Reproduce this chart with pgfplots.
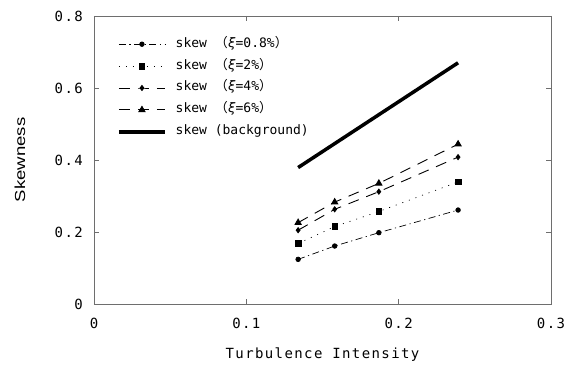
\documentclass[border=0pt]{standalone}
\usepackage{fontspec}
\usepackage{pgfplots}
\pgfplotsset{compat=1.18}
\setmainfont{DejaVu Sans Mono}
\newfontfamily\tickfont[LetterSpace=10]{DejaVu Sans Mono}
\newfontfamily\ylabfont[FakeStretch=1.28]{Liberation Sans}
\newfontfamily\cjk{Noto Sans CJK JP}
\definecolor{axgray}{RGB}{110,110,110}
\begin{document}
\begin{tikzpicture}
\begin{axis}[
  scale only axis, width=457pt, height=288pt,
  xmin=0, xmax=0.3, ymin=0, ymax=0.8,
  xtick={0,0.1,0.2,0.3}, xticklabels={0,0.1,0.2,0.3},
  ytick={0,0.2,0.4,0.6,0.8}, yticklabels={0,0.2,0.4,0.6,0.8},
  tick align=inside, major tick length=5pt,
  axis line style={axgray, line width=0.8pt},
  every tick/.style={axgray, line width=0.8pt},
  xticklabel style={font=\fontsize{14}{14}\tickfont, anchor=north, inner sep=0pt, yshift=-14pt},
  yticklabel style={font=\fontsize{14}{14}\tickfont, anchor=east, inner sep=0pt, xshift=-11pt},
  xlabel={Turbulence Intensity},
  ylabel={Skewness},
  xlabel style={font=\fontsize{14}{14}\tickfont, at={(axis description cs:0.5,-0.1771)}, anchor=center, inner sep=0pt},
  ylabel style={font=\fontsize{14.5}{14.5}\ylabfont, at={(axis description cs:-0.1619,0.5)}, anchor=center, inner sep=0pt},
  legend image code/.code={\draw[mark repeat=2, mark phase=2, #1] plot coordinates {(0pt,0pt) (23pt,0pt) (46pt,0pt)};},
  legend cell align=left,
  legend style={draw=none, fill=none, at={(rel axis cs:0,1)}, anchor=north west,
    xshift=23pt, yshift=-22pt, inner sep=0pt, row sep=9.9pt, column sep=9pt,
    font=\fontsize{13}{13}\selectfont,
    nodes={inner sep=0pt, text height=9pt, text depth=3pt}},
]
\coordinate (bl) at (rel axis cs:0,0);
\coordinate (tr) at (rel axis cs:1,1);
\addplot[black, line width=0.7pt, dash pattern=on 7pt off 3.5pt on 1.2pt off 3.5pt, mark=*, mark size=2.3pt, mark options={solid}]
  coordinates {(0.134,0.124) (0.158,0.161) (0.187,0.198) (0.239,0.261)};
\addlegendentry{skew {\cjk （}\textit{ξ}=0.8\%{\cjk ）}}
\addplot[black, line width=0.7pt, dash pattern=on 1pt off 6pt, mark=square*, mark size=2.8pt, mark options={solid}]
  coordinates {(0.134,0.168) (0.158,0.215) (0.187,0.257) (0.239,0.339)};
\addlegendentry{skew {\cjk （}\textit{ξ}=2\%{\cjk ）}}
\addplot[black, line width=0.9pt, dash pattern=on 11pt off 8pt, mark=diamond*, mark size=2.5pt, mark options={solid}]
  coordinates {(0.134,0.205) (0.158,0.263) (0.187,0.312) (0.239,0.408)};
\addlegendentry{skew {\cjk （}\textit{ξ}=4\%{\cjk ）}}
\addplot[black, line width=0.9pt, dash pattern=on 11pt off 8pt, mark=triangle*, mark size=3.5pt, mark options={solid}]
  coordinates {(0.134,0.226) (0.158,0.283) (0.187,0.335) (0.239,0.444)};
\addlegendentry{skew {\cjk （}\textit{ξ}=6\%{\cjk ）}}
\addplot[black, line width=3.5pt, no marks]
  coordinates {(0.134,0.379) (0.239,0.670)};
\addlegendentry{skew (background)}
\end{axis}
\pgfresetboundingbox
\path[use as bounding box] ([shift={(-94pt,-65pt)}]bl) rectangle ([shift={(13pt,16pt)}]tr);
\end{tikzpicture}
\end{document}
